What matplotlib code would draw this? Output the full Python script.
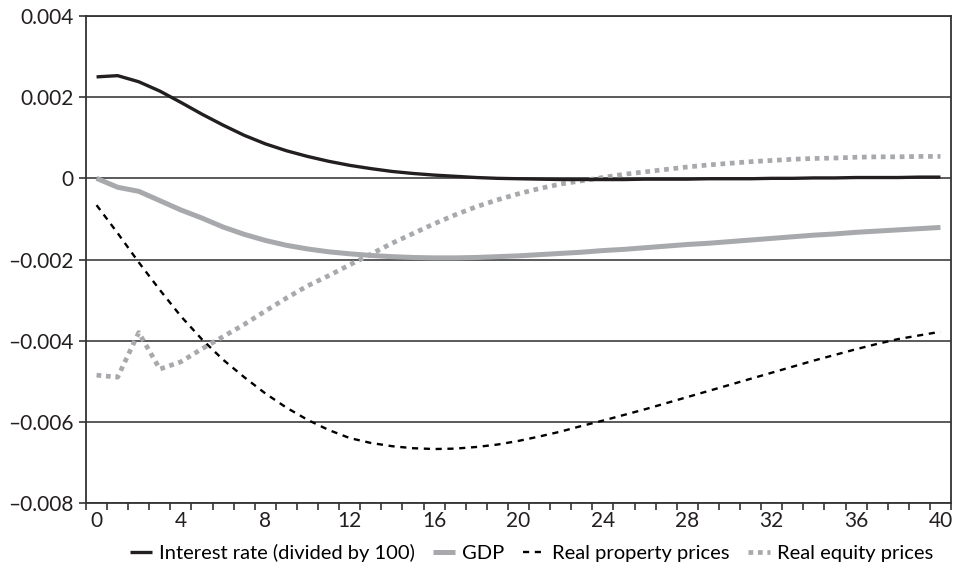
import matplotlib
matplotlib.use("Agg")
import matplotlib.pyplot as plt
from matplotlib.ticker import FixedLocator, FuncFormatter
import numpy as np

quarters = list(range(41))
interest_rate = [0.00250, 0.00253, 0.00238, 0.00215, 0.00187, 0.00158, 0.00131, 0.00106, 0.00085, 0.00068,
                 0.00054, 0.00042, 0.00032, 0.00024, 0.00017, 0.00012, 0.00008, 0.00005, 0.00002, 0.00000,
                 -0.00001, -0.00002, -0.00003, -0.00003, -0.00003, -0.00003, -0.00002, -0.00002, -0.00002, -0.00001,
                 -0.00001, -0.00001, 0.00000, 0.00000, 0.00001, 0.00001, 0.00002, 0.00002, 0.00002, 0.00003, 0.00003]
gdp = [0.0, -0.00022, -0.00032, -0.00055, -0.00078, -0.00098, -0.00120, -0.00138, -0.00153, -0.00165,
       -0.00174, -0.00181, -0.00186, -0.00190, -0.00193, -0.00195, -0.00196, -0.00196, -0.00195, -0.00193,
       -0.00191, -0.00188, -0.00185, -0.00182, -0.00178, -0.00175, -0.00171, -0.00167, -0.00163, -0.00160,
       -0.00156, -0.00152, -0.00148, -0.00144, -0.00140, -0.00137, -0.00133, -0.00130, -0.00127, -0.00124, -0.00121]
property_prices = [-0.00066, -0.00135, -0.00207, -0.00275, -0.00340, -0.00397, -0.00447, -0.00490, -0.00530, -0.00565,
                   -0.00595, -0.00620, -0.00640, -0.00652, -0.00660, -0.00665, -0.00667, -0.00666, -0.00662, -0.00656,
                   -0.00647, -0.00636, -0.00624, -0.00610, -0.00597, -0.00583, -0.00569, -0.00554, -0.00539, -0.00524,
                   -0.00509, -0.00494, -0.00479, -0.00464, -0.00449, -0.00435, -0.00421, -0.00408, -0.00396, -0.00387, -0.00378]
equity_prices = [-0.00485, -0.00490, -0.00380, -0.00470, -0.00452, -0.00420, -0.00390, -0.00360, -0.00327, -0.00295,
                 -0.00265, -0.00240, -0.00213, -0.00187, -0.00160, -0.00136, -0.00112, -0.00090, -0.00070, -0.00053,
                 -0.00038, -0.00025, -0.00014, -0.00006, 0.00002, 0.00010, 0.00016, 0.00022, 0.00028, 0.00033,
                 0.00037, 0.00041, 0.00044, 0.00047, 0.00049, 0.00050, 0.00052, 0.00053, 0.00053, 0.00054, 0.00054]

series_labels = ["Interest rate (divided by 100)", "GDP", "Real property prices", "Real equity prices"]
y_ticks = [-0.008, -0.006, -0.004, -0.002, 0, 0.002, 0.004]
x_labels = [0, 4, 8, 12, 16, 20, 24, 28, 32, 36, 40]

plt.rcParams['font.family'] = ['Lato', 'DejaVu Sans']

fig = plt.figure(figsize=(9.64, 5.70), dpi=100)
ax = fig.add_axes([86/964, 1 - 503/570, (951-86)/964, (503-16)/570])

gray = '#a7a9ac'
ax.plot(quarters, interest_rate, color='#231f20', lw=2.4, label=series_labels[0], zorder=4, solid_capstyle='butt')
ax.plot(quarters, gdp, color=gray, lw=3.6, label=series_labels[1], zorder=3, solid_capstyle='butt')
ax.plot(quarters, property_prices, color='black', lw=1.7, ls=(0, (2.6, 2.4)), label=series_labels[2], zorder=5)
ax.plot(quarters, equity_prices, color=gray, lw=3.4, ls=(0, (1, 1)), label=series_labels[3], zorder=3)

ax.set_xlim(-0.5, 40.5)
ax.set_ylim(-0.008, 0.004)
ax.set_yticks(y_ticks)

def yfmt(v, pos):
    if abs(v) < 1e-12:
        return '0'
    s = f"{v:.3f}"
    return s.replace('-', '\u2013')
ax.yaxis.set_major_formatter(FuncFormatter(yfmt))

ax.set_xticks(x_labels)
ax.set_xticklabels([str(v) for v in x_labels])
ax.tick_params(axis='x', which='major', length=0, pad=6)
ax.xaxis.set_minor_locator(FixedLocator(np.arange(-0.5, 41, 1)))
ax.tick_params(axis='x', which='minor', length=5, width=1.2, color='#333333', direction='out')
ax.tick_params(axis='y', which='major', length=5, width=1.2, color='#333333', direction='out', pad=4)
ax.tick_params(labelsize=15, labelcolor='#231f20')

ax.grid(axis='y', color='#4d4d4d', lw=1.3)
ax.set_axisbelow(True)
for s in ax.spines.values():
    s.set_color('#333333')
    s.set_linewidth(1.3)

leg = ax.legend(loc='upper center', bbox_to_anchor=(0.515, -0.068), ncol=4, frameon=False,
                fontsize=14.5, handlelength=1.1, handletextpad=0.35, columnspacing=0.9, borderaxespad=0)

fig.savefig('out.png', dpi=100)
